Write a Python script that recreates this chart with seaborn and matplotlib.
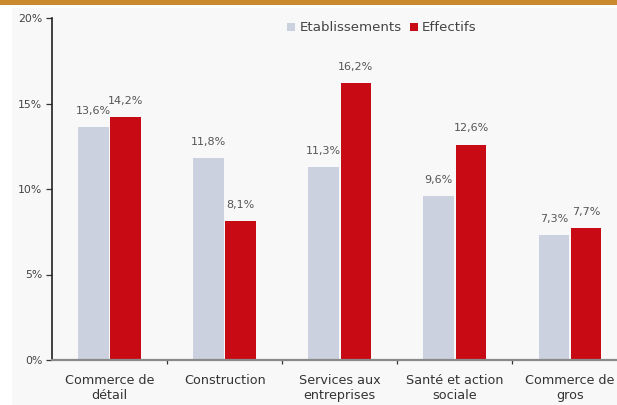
import numpy as np
import pandas as pd
import matplotlib
matplotlib.use("Agg")
import matplotlib.pyplot as plt
import seaborn as sns
from matplotlib.patches import Rectangle

# data
secteurs = ["Commerce de\ndétail", "Construction", "Services aux\nentreprises",
            "Santé et action\nsociale", "Commerce de\ngros"]
etablissements = [13.6, 11.8, 11.3, 9.6, 7.3]
effectifs = [14.2, 8.1, 16.2, 12.6, 7.7]
series = ["Etablissements", "Effectifs"]
yticks = [0, 5, 10, 15, 20]

df = pd.DataFrame({
    "secteur": secteurs * 2,
    "serie": [series[0]] * len(secteurs) + [series[1]] * len(secteurs),
    "valeur": etablissements + effectifs,
})

sns.set_style("white")
plt.rcParams["font.family"] = ["DejaVu Sans"]

fig = plt.figure(figsize=(6.17, 4.05), dpi=100, facecolor="white")
fig.patches.append(Rectangle((12 / 617, 0), 1, 1 - 8 / 405, transform=fig.transFigure,
                             facecolor="#f8f8f8", edgecolor="none", zorder=-10))
fig.patches.append(Rectangle((0, 1 - 5 / 405), 1, 5 / 405, transform=fig.transFigure,
                             facecolor="#c98a2e", edgecolor="none", zorder=-5))

W, H = 617, 405
left, right, top, bottom = 52, 627.6, 18, 360
ax = fig.add_axes([left / W, 1 - bottom / H, (right - left) / W, (bottom - top) / H])
ax.set_facecolor("none")

palette = {"Etablissements": "#ccd1e0", "Effectifs": "#c80a14"}
sns.barplot(data=df, x="secteur", y="valeur", hue="serie", palette=palette,
            width=0.56, gap=0.05, ax=ax, saturation=1, legend=True, linewidth=0)

for cont in ax.containers:
    labels = [f"{v:.1f}%".replace(".", ",") for v in cont.datavalues]
    ax.bar_label(cont, labels=labels, padding=8, fontsize=8, color="#555555")

ax.set_xlim(-0.5, 4.5)
ax.set_ylim(0, 20)
ax.set_yticks(yticks)
ax.set_yticklabels([f"{t}%" for t in yticks], fontsize=7.8, color="#444444")
ax.set_xticks(range(len(secteurs)))
ax.set_xticklabels(secteurs, fontsize=9.2, color="#333333", linespacing=1.2)
ax.set_xticks(np.arange(0.5, 4.5, 1), minor=True)
ax.tick_params(axis="x", which="major", bottom=False, length=0, pad=10)
ax.tick_params(axis="x", which="minor", bottom=True, length=3, width=0.9,
               color="#333333", direction="out")
ax.tick_params(axis="y", left=True, length=4, width=0.9, color="#333333",
               direction="out", pad=3)
ax.set_xlabel("")
ax.set_ylabel("")

sns.despine(ax=ax, top=True, right=True)
ax.spines["left"].set_color("#222222")
ax.spines["left"].set_linewidth(1.2)
ax.spines["bottom"].set_color("#8a8a8a")
ax.spines["bottom"].set_linewidth(1.6)

leg = ax.legend(loc="upper center", bbox_to_anchor=(0.573, 1.025), ncol=2,
                frameon=False, fontsize=9.6, handlelength=0.6, handleheight=0.6,
                handletextpad=0.3, columnspacing=0.6)
for t in leg.get_texts():
    t.set_color("#444444")

fig.savefig("out.png", dpi=100, facecolor="white")
